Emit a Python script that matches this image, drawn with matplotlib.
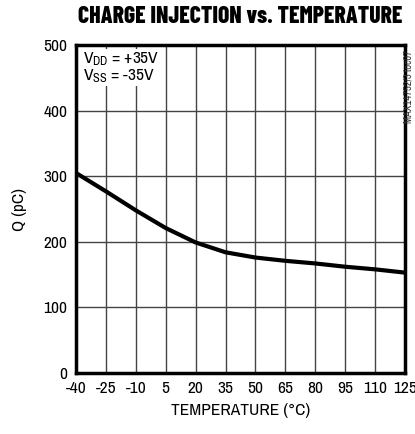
import numpy as np
import matplotlib
matplotlib.use("Agg")
import matplotlib.pyplot as plt

# values
temp = [-40, -25, -10, 5, 20, 35, 50, 65, 80, 95, 110, 125]
charge = [305, 277, 248, 221, 199, 184, 176, 171, 167, 162, 158, 153]
xticks = [-40, -25, -10, 5, 20, 35, 50, 65, 80, 95, 110, 125]
yticks = [0, 100, 200, 300, 400, 500]

plt.rcParams['font.family'] = ['Archivo Narrow', 'Liberation Sans', 'DejaVu Sans']
plt.rcParams['axes.unicode_minus'] = False
plt.rcParams['mathtext.fontset'] = 'custom'
plt.rcParams['mathtext.rm'] = 'Archivo Narrow'

fig = plt.figure(figsize=(4.15, 4.34), dpi=100)
ax = fig.add_axes([0.183, 0.1406, 0.793, 0.7556])

ax.plot(temp, charge, color='black', lw=3, solid_capstyle='butt', zorder=3)

ax.set_xlim(-40, 125)
ax.set_ylim(0, 500)
ax.set_xticks(xticks)
ax.set_yticks(yticks)
ax.grid(True, color='#444444', lw=1)
ax.tick_params(length=0, labelsize=12.5, pad=6)
for s in ax.spines.values():
    s.set_linewidth(2.5)

ax.set_xlabel('TEMPERATURE (°C)', fontsize=12.5, labelpad=5)
ax.set_ylabel('Q (pC)', fontsize=12.5, labelpad=12)
ax.set_title('CHARGE INJECTION vs. TEMPERATURE', fontsize=17,
             family=['Barlow Condensed', 'Archivo Narrow', 'DejaVu Sans'],
             fontweight='heavy', pad=16, x=0.5)

ax.text(0.02, 0.985, '$\\mathregular{V_{DD}}$ = +35V\n$\\mathregular{V_{SS}}$ = -35V',
        transform=ax.transAxes, fontsize=12.5, va='top', ha='left', linespacing=0.95,
        bbox=dict(facecolor='white', edgecolor='none', pad=1))

fig.text(0.997, 0.80, 'MAX14752/3 toc07', rotation=90, fontsize=7.5,
         ha='right', va='center', color='#333333')

fig.savefig('out.png', dpi=100)
